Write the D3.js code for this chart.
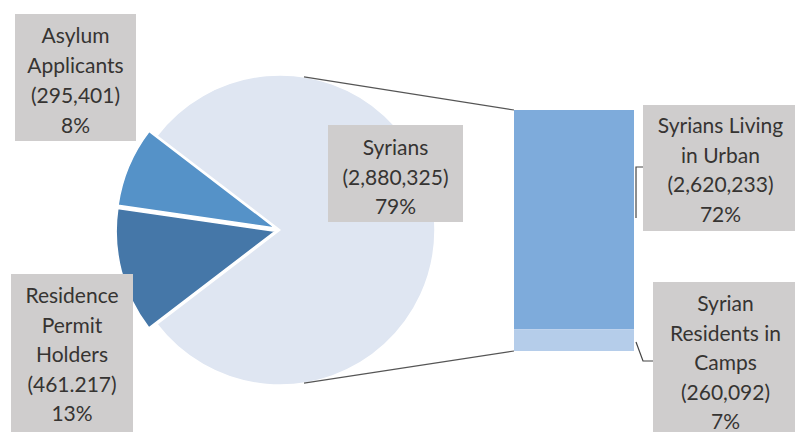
<!DOCTYPE html>
<html><head><meta charset="utf-8">
<script src="https://cdn.jsdelivr.net/npm/d3@7"></script>
<style>html,body{margin:0;padding:0;background:#fff;}svg{display:block;}</style>
</head><body>
<svg id="chart" width="795" height="432"></svg>
<script>
// ---- data ----
const pieCategories = ["Syrians", "Residence Permit Holders", "Asylum Applicants"];
const pieValues = [2880325, 461217, 295401];
const pieValueText = ["2,880,325", "461.217", "295,401"];
const piePercent = ["79%", "13%", "8%"];
const barCategories = ["Syrians Living in Urban", "Syrian Residents in Camps"];
const barValues = [2620233, 260092];
const barValueText = ["2,620,233", "260,092"];
const barPercent = ["72%", "7%"];

// label line breaks (text content)
const pieLabelLines = [["Syrians"], ["Residence", "Permit", "Holders"], ["Asylum", "Applicants"]];
const barLabelLines = [["Syrians Living", "in Urban"], ["Syrian", "Residents in", "Camps"]];

const svg = d3.select("#chart");
const FONT = "Lato, 'Open Sans', sans-serif";
const TXT = "#363432";
const BOXC = "#cfcdcd";

// ---- pie ----
const cx = 280, cy = 230, R = 155;
const pieColors = ["#dfe6f2", "#4577a8", "#5592c8"];
const total = d3.sum(pieValues);
const syrFrac = pieValues[0] / total;
const start = Math.PI / 2 - syrFrac * Math.PI; // center Syrians slice on the right
const pie = d3.pie().sort(null).startAngle(start).endAngle(start + 2 * Math.PI);
const arcs = pie(pieValues);
const outerR = [R, R + 4, R + 4];
const arc = d3.arc().innerRadius(0).outerRadius((d) => outerR[d.index]);
const explode = [0, 5, 5];
const pg = svg.append("g").attr("transform", `translate(${cx},${cy})`);
pg.selectAll("path").data(arcs).join("path")
  .attr("d", arc)
  .attr("fill", (d, i) => pieColors[i])
  .attr("stroke", "#fff").attr("stroke-width", 1.5).attr("stroke-linejoin", "round")
  .attr("transform", (d, i) => {
    const m = (d.startAngle + d.endAngle) / 2;
    return `translate(${explode[i] * Math.sin(m)},${-explode[i] * Math.cos(m)})`;
  });

// ---- bar ----
const barX = 514, barW = 120, barTop = 110, barBot = 351;
const y = d3.scaleLinear().domain([0, pieValues[0]]).range([barTop, barBot]);
const barColors = ["#7eabdb", "#b5cdea"];
let acc = 0;
const stack = barValues.map(v => { const s = acc; acc += v; return [s, acc]; });
svg.append("g").selectAll("rect").data(stack).join("rect")
  .attr("x", barX).attr("width", barW)
  .attr("y", d => y(d[0])).attr("height", d => y(d[1]) - y(d[0]))
  .attr("fill", (d, i) => barColors[i]);

// ---- connector lines pie -> bar ----
const xOff = 24;
const dy = Math.sqrt(R * R - xOff * xOff);
svg.append("line").attr("x1", cx + xOff).attr("y1", cy - dy).attr("x2", barX).attr("y2", y(0))
  .attr("stroke", "#555").attr("stroke-width", 1.2);
svg.append("line").attr("x1", cx + xOff).attr("y1", cy + dy).attr("x2", barX).attr("y2", y(pieValues[0]))
  .attr("stroke", "#555").attr("stroke-width", 1.2);

// ---- label boxes ----
function labelBox(x, yTop, w, h, lines, firstBase, step) {
  const g = svg.append("g");
  g.append("rect").attr("x", x).attr("y", yTop).attr("width", w).attr("height", h).attr("fill", BOXC);
  g.selectAll("text").data(lines).join("text")
    .attr("x", x + w / 2).attr("y", (d, i) => firstBase + i * step)
    .attr("text-anchor", "middle").attr("font-family", FONT).attr("font-size", 21)
    .attr("fill", TXT).text(d => d);
}
labelBox(15, 14, 121, 127, [...pieLabelLines[2], `(${pieValueText[2]})`, piePercent[2]], 43, 30);
labelBox(11, 274, 122, 170, [...pieLabelLines[1], `(${pieValueText[1]})`, piePercent[1]], 303, 29.5);
labelBox(328, 125, 135, 97, [...pieLabelLines[0], `(${pieValueText[0]})`, piePercent[0]], 155, 29.5);
labelBox(643, 105, 155, 126, [...barLabelLines[0], `(${barValueText[0]})`, barPercent[0]], 133, 29.5);
labelBox(653, 282, 145, 160, [...barLabelLines[1], `(${barValueText[1]})`, barPercent[1]], 311, 29.5);

// ---- leader lines for bar labels ----
svg.append("path").attr("d", "M643,167 H636 V218").attr("fill", "none").attr("stroke", "#444").attr("stroke-width", 1.2);
svg.append("path").attr("d", "M636,342 L643,361 H653").attr("fill", "none").attr("stroke", "#444").attr("stroke-width", 1.2);
</script>
</body></html>
